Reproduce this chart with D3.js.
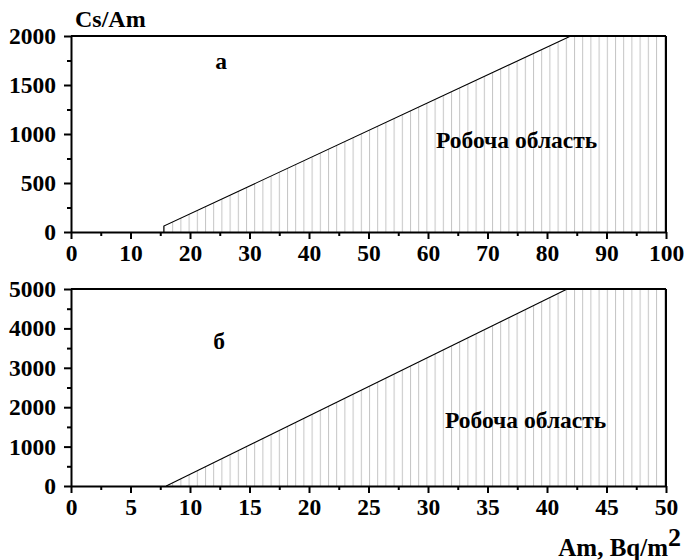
<!DOCTYPE html>
<html>
<head>
<meta charset="utf-8">
<script src="https://cdn.jsdelivr.net/npm/d3@7"></script>
<style>
  body { margin: 0; background: #fff; }
  text { font-family: "Liberation Serif", "Times New Roman", serif; font-weight: bold; fill: #000; }
</style>
</head>
<body>
<svg id="chart" width="685" height="560"></svg>
<script>
// Panel a: working-region boundary, Cs/Am versus Am
const xTicksA = [0, 10, 20, 30, 40, 50, 60, 70, 80, 90, 100];
const xMinorA = [5, 15, 25, 35, 45, 55, 65, 75, 85, 95];
const yTicksA = [0, 500, 1000, 1500, 2000];
const yMinorA = [250, 750, 1250, 1750];
const boundaryAx = [15.6, 15.6, 84.0];
const boundaryAy = [0, 60, 2000];

// Panel б
const xTicksB = [0, 5, 10, 15, 20, 25, 30, 35, 40, 45, 50];
const xMinorB = [2.5, 7.5, 12.5, 17.5, 22.5, 27.5, 32.5, 37.5, 42.5, 47.5];
const yTicksB = [0, 1000, 2000, 3000, 4000, 5000];
const yMinorB = [500, 1500, 2500, 3500, 4500];
const boundaryBx = [8.0, 41.7];
const boundaryBy = [0, 5000];

const regionLabel = "Робоча область";

const svg = d3.select("#chart");
const left = 71, right = 666;
const labelSize = 23.5;

// vertical-line hatching for the working region
const defs = svg.append("defs");
defs.append("pattern")
  .attr("id", "vhatch")
  .attr("patternUnits", "userSpaceOnUse")
  .attr("width", 8.2).attr("height", 10)
  .append("line")
  .attr("x1", 0.5).attr("x2", 0.5).attr("y1", 0).attr("y2", 10)
  .attr("stroke", "#c4c4c4").attr("stroke-width", 1);

const panels = [
  { xMax: 100, yMax: 2000, top: 36, bottom: 232,
    xTicks: xTicksA, xMinor: xMinorA, yTicks: yTicksA, yMinor: yMinorA,
    bx: boundaryAx, by: boundaryAy,
    tag: "а", tagX: 221, tagY: 69, regX: 436, regY: 148 },
  { xMax: 50, yMax: 5000, top: 289, bottom: 486,
    xTicks: xTicksB, xMinor: xMinorB, yTicks: yTicksB, yMinor: yMinorB,
    bx: boundaryBx, by: boundaryBy,
    tag: "б", tagX: 219, tagY: 349, regX: 445, regY: 428 }
];

panels.forEach(p => {
  const x = d3.scaleLinear().domain([0, p.xMax]).range([left, right]);
  const y = d3.scaleLinear().domain([0, p.yMax]).range([p.bottom, p.top]);
  const g = svg.append("g");

  // region under the boundary, capped at the top of the axis
  const pts = p.bx.map((v, i) => [v, p.by[i]]);
  pts.push([p.xMax, p.yMax]);
  const area = d3.area()
    .x(d => x(d[0])).y0(y(0)).y1(d => y(d[1]));
  g.append("path").datum(pts)
    .attr("d", area)
    .attr("fill", "url(#vhatch)");

  // boundary line
  const line = d3.line().x(d => x(d[0])).y(d => y(d[1]));
  g.append("path").datum(p.bx.map((v, i) => [v, p.by[i]]))
    .attr("d", line).attr("fill", "none")
    .attr("stroke", "#000").attr("stroke-width", 1.1);

  // frame: top and right
  g.append("line").attr("x1", left).attr("x2", right)
    .attr("y1", y(p.yMax)).attr("y2", y(p.yMax))
    .attr("stroke", "#000").attr("stroke-width", 2);
  g.append("line").attr("x1", right).attr("x2", right)
    .attr("y1", y(p.yMax)).attr("y2", y(0))
    .attr("stroke", "#000").attr("stroke-width", 2);

  // minor ticks
  g.append("g").attr("transform", `translate(0,${y(0)})`)
    .call(d3.axisBottom(x).tickValues(p.xMinor).tickSize(4).tickFormat(""))
    .call(s => s.select(".domain").remove());
  g.append("g").attr("transform", `translate(${left},0)`)
    .call(d3.axisLeft(y).tickValues(p.yMinor).tickSize(4).tickFormat(""))
    .call(s => s.select(".domain").remove());

  // major axes
  const xa = g.append("g").attr("transform", `translate(0,${y(0)})`)
    .call(d3.axisBottom(x).tickValues(p.xTicks).tickSize(7).tickSizeOuter(0).tickPadding(5).tickFormat(d3.format("d")));
  const ya = g.append("g").attr("transform", `translate(${left},0)`)
    .call(d3.axisLeft(y).tickValues(p.yTicks).tickSize(7).tickSizeOuter(0).tickPadding(8).tickFormat(d3.format("d")));
  [xa, ya].forEach(a => {
    a.attr("font-family", null).attr("font-size", null);
    a.selectAll("text").attr("font-size", labelSize);
    a.select(".domain").attr("stroke-width", 2);
  });
  svg.selectAll(".tick line").attr("stroke-width", 2);

  g.append("text").attr("x", p.tagX).attr("y", p.tagY)
    .attr("text-anchor", "middle").attr("font-size", labelSize).text(p.tag);
  g.append("text").attr("x", p.regX).attr("y", p.regY)
    .attr("font-size", labelSize).text(regionLabel);
});

svg.append("text").attr("x", 75).attr("y", 27).attr("font-size", 24).text("Cs/Am");
const xt = svg.append("text").attr("x", 681).attr("y", 556)
  .attr("text-anchor", "end").attr("font-size", 25);
xt.append("tspan").text("Am, Bq/m");
xt.append("tspan").attr("dy", -10).attr("font-size", 26).text("2");
</script>
</body>
</html>
